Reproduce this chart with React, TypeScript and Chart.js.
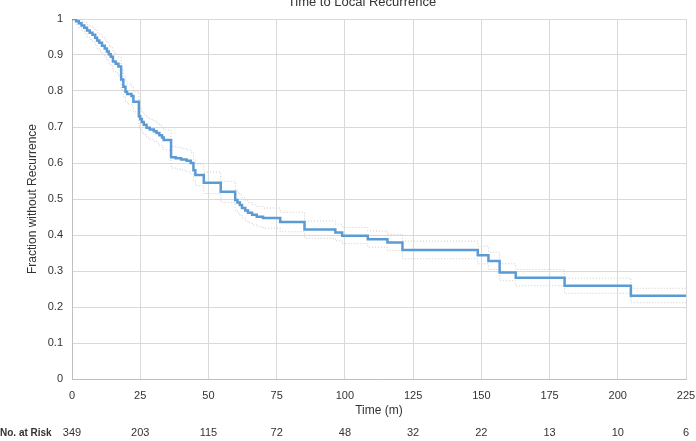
import React, { useEffect, useRef } from "react";
import { Chart, registerables } from "chart.js";

Chart.register(...registerables);

const chartTitle = "Time to Local Recurrence";
const xAxisTitle = "Time (m)";
const yAxisTitle = "Fraction without Recurrence";
const riskLabel = "No. at Risk";

const timeMonths = [
  0, 1.5, 2.5, 3.5, 4.5, 5.5, 6.5, 7.5, 8.5, 9.2, 10, 11, 12, 12.8, 13.5, 14.2, 15, 16, 17, 18,
  18.8, 19.6, 20.2, 21.8, 22.5, 24.5, 25, 25.6, 26.3, 27.3, 28.5, 30, 31, 32, 33, 33.6, 36.3, 38,
  40, 42, 43.5, 44.5, 45.2, 48.3, 54.5, 59.8, 60.6, 61.5, 62.3, 63.5, 64.5, 66, 67.7, 70, 76.3,
  85.2, 96.5, 99, 108.4, 115.6, 121.1, 148.7, 152.6, 156.7, 162.6, 180.5, 204.8, 225,
];
const survival = [
  1.0, 0.994, 0.988, 0.982, 0.976, 0.968, 0.962, 0.956, 0.948, 0.94, 0.934, 0.926, 0.918, 0.91,
  0.902, 0.895, 0.882, 0.876, 0.868, 0.832, 0.812, 0.798, 0.792, 0.786, 0.77, 0.73, 0.722, 0.714,
  0.706, 0.698, 0.693, 0.688, 0.683, 0.677, 0.671, 0.664, 0.616, 0.613, 0.61, 0.606, 0.6, 0.58,
  0.567, 0.545, 0.52, 0.497, 0.49, 0.483, 0.475, 0.468, 0.462, 0.456, 0.451, 0.447, 0.436, 0.415,
  0.407, 0.398, 0.388, 0.379, 0.358, 0.344, 0.328, 0.296, 0.281, 0.259, 0.231, 0.231,
];
const upperCI = [
  1.0, 1.0, 0.998, 0.994, 0.99, 0.984, 0.98, 0.975, 0.969, 0.962, 0.957, 0.95, 0.942, 0.935, 0.927,
  0.92, 0.908, 0.902, 0.895, 0.86, 0.84, 0.826, 0.82, 0.814, 0.798, 0.758, 0.75, 0.742, 0.734,
  0.726, 0.721, 0.716, 0.711, 0.705, 0.699, 0.692, 0.646, 0.643, 0.64, 0.636, 0.63, 0.61, 0.597,
  0.575, 0.549, 0.526, 0.519, 0.511, 0.503, 0.496, 0.49, 0.484, 0.479, 0.475, 0.463, 0.439, 0.43,
  0.421, 0.411, 0.402, 0.383, 0.369, 0.352, 0.32, 0.304, 0.28, 0.252, 0.252,
];
const lowerCI = [
  1.0, 0.985, 0.976, 0.968, 0.96, 0.95, 0.943, 0.936, 0.927, 0.918, 0.911, 0.902, 0.894, 0.885,
  0.877, 0.87, 0.856, 0.85, 0.841, 0.804, 0.784, 0.77, 0.764, 0.758, 0.742, 0.702, 0.694, 0.686,
  0.678, 0.67, 0.665, 0.66, 0.655, 0.649, 0.643, 0.636, 0.586, 0.583, 0.58, 0.576, 0.57, 0.55,
  0.537, 0.515, 0.491, 0.468, 0.461, 0.455, 0.447, 0.44, 0.434, 0.428, 0.423, 0.419, 0.409, 0.391,
  0.384, 0.376, 0.366, 0.357, 0.334, 0.32, 0.304, 0.273, 0.259, 0.238, 0.212, 0.212,
];

const riskTimes = [0, 25, 50, 75, 100, 125, 150, 175, 200, 225];
const riskCounts = [349, 203, 115, 72, 48, 32, 22, 13, 10, 6];

const FONT = '"Liberation Sans", Arial, sans-serif';
const TEXT = "#333333";

export default function App() {
  const ref = useRef<HTMLCanvasElement | null>(null);

  useEffect(() => {
    if (!ref.current) return;
    const toPts = (ys: number[]) => timeMonths.map((t, i) => ({ x: t, y: ys[i] }));

    const extraText = {
      id: "extraText",
      afterDraw(chart: any) {
        const ctx = chart.ctx as CanvasRenderingContext2D;
        const xs = chart.scales.x;
        ctx.save();
        ctx.fillStyle = TEXT;
        ctx.font = `13px ${FONT}`;
        ctx.textAlign = "center";
        ctx.textBaseline = "alphabetic";
        ctx.fillText(chartTitle, 362, 6);
        ctx.textBaseline = "middle";
        ctx.textAlign = "left";
        ctx.font = `bold 10px ${FONT}`;
        ctx.fillText(riskLabel, 0, 433);
        ctx.font = `11px ${FONT}`;
        ctx.textAlign = "center";
        riskTimes.forEach((t, i) => {
          ctx.fillText(String(riskCounts[i]), xs.getPixelForValue(t), 433);
        });
        ctx.restore();
      },
    };

    const chart = new Chart(ref.current, {
      type: "line",
      data: {
        datasets: [
          {
            label: "Survival",
            data: toPts(survival),
            borderColor: "#5b9bd5",
            borderWidth: 2.5,
            stepped: "before",
            pointRadius: 0,
            fill: false,
          },
          {
            label: "Upper",
            data: toPts(upperCI),
            borderColor: "#d2c8c8",
            borderWidth: 1,
            borderDash: [1, 2],
            stepped: "before",
            pointRadius: 0,
            fill: false,
          },
          {
            label: "Lower",
            data: toPts(lowerCI),
            borderColor: "#d2c8c8",
            borderWidth: 1,
            borderDash: [1, 2],
            stepped: "before",
            pointRadius: 0,
            fill: false,
          },
        ],
      },
      options: {
        animation: false,
        responsive: false,
        devicePixelRatio: 1,
        layout: { padding: { top: 19, right: 10, left: 0, bottom: 0 } },
        plugins: { legend: { display: false }, tooltip: { enabled: false }, title: { display: false } },
        scales: {
          x: {
            type: "linear",
            min: 0,
            max: 225,
            ticks: { stepSize: 25, color: TEXT, font: { family: FONT, size: 11 }, padding: 10, maxRotation: 0 },
            grid: { color: "#d9d9d9", drawTicks: false },
            border: { color: "#bfbfbf" },
            title: {
              display: true,
              text: xAxisTitle,
              color: TEXT,
              font: { family: FONT, size: 12 },
              padding: { top: 0, bottom: 23 },
            },
            afterFit: (s: any) => {
              s.height = 62;
              s.paddingLeft = 0;
              s.paddingRight = 0;
            },
          },
          y: {
            min: 0,
            max: 1,
            ticks: {
              stepSize: 0.1,
              color: TEXT,
              font: { family: FONT, size: 11 },
              padding: 9,
              callback: (v: any) => String(Number(Number(v).toFixed(1))),
            },
            grid: { color: "#d9d9d9", drawTicks: false },
            border: { color: "#bfbfbf" },
            title: {
              display: true,
              text: yAxisTitle,
              color: TEXT,
              font: { family: FONT, size: 12 },
              padding: { top: 25, bottom: 0 },
            },
            afterFit: (s: any) => {
              s.width = 72;
            },
          },
        },
      },
      plugins: [extraText],
    });
    return () => chart.destroy();
  }, []);

  return (
    <div style={{ position: "fixed", left: 0, top: 0, width: 696, height: 441, background: "#fff" }}>
      <canvas ref={ref} width={696} height={441} style={{ width: 696, height: 441 }} />
    </div>
  );
}
